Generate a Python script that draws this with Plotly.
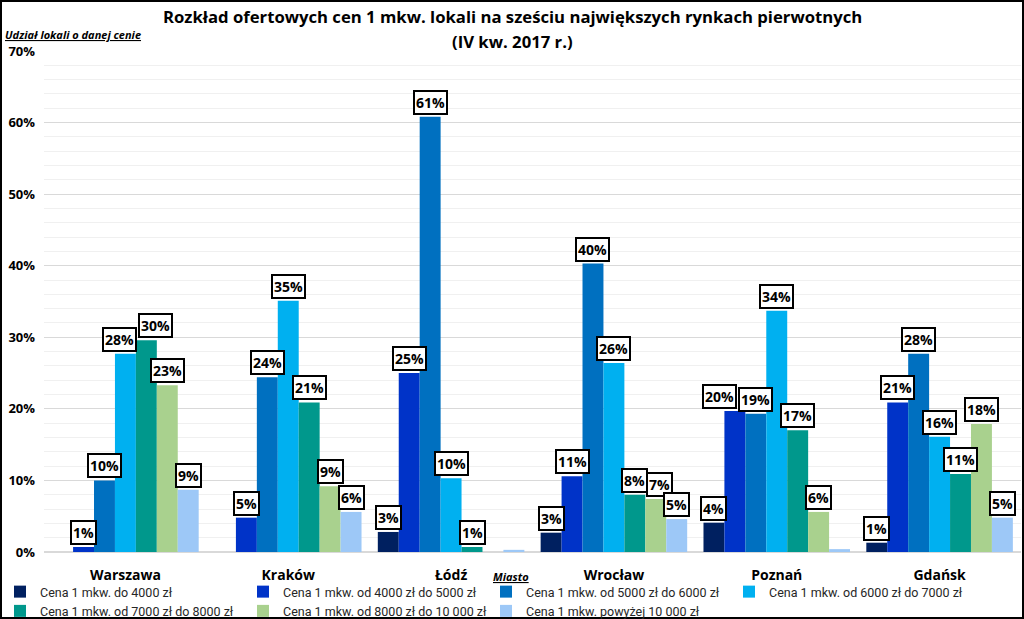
import plotly.graph_objects as go

cities = ["Warszawa", "Kraków", "Łódź", "Wrocław", "Poznań", "Gdańsk"]
series_names = [
    "Cena 1 mkw. do 4000 zł",
    "Cena 1 mkw. od 4000 zł do 5000 zł",
    "Cena 1 mkw. od 5000 zł do 6000 zł",
    "Cena 1 mkw. od 6000 zł do 7000 zł",
    "Cena 1 mkw. od 7000 zł do 8000 zł",
    "Cena 1 mkw. od 8000 zł do 10 000 zł",
    "Cena 1 mkw. powyżej 10 000 zł",
]
colors = ["#002060", "#0033c8", "#0070c0", "#00b0f0", "#00988c", "#a9d18e", "#9dc8f7"]

s_do4000 = [0.0, 0.0, 2.8, 2.7, 4.1, 1.3]
s_4000_5000 = [0.7, 4.8, 25.0, 10.6, 19.7, 20.9]
s_5000_6000 = [10.0, 24.4, 60.8, 40.3, 19.3, 27.7]
s_6000_7000 = [27.7, 35.1, 10.3, 26.4, 33.7, 16.1]
s_7000_8000 = [29.6, 20.9, 0.7, 8.0, 17.0, 10.9]
s_8000_10000 = [23.3, 9.2, 0.0, 7.4, 5.6, 17.9]
s_pow10000 = [8.7, 5.6, 0.3, 4.6, 0.4, 4.8]
series_values = [s_do4000, s_4000_5000, s_5000_6000, s_6000_7000,
                 s_7000_8000, s_8000_10000, s_pow10000]

y_ticks = [0, 10, 20, 30, 40, 50, 60, 70]
y_ticktext = [f"{v}%" for v in y_ticks]

# label nudges (pixels) used by the original to avoid overlapping boxes: (city index, series index) -> xshift
label_nudge = {(0, 3): -6, (0, 4): 9, (3, 5): 4, (4, 1): -15}

W, H = 1024, 619
ml, mr, mt, mb = 44, 3, 51, 67
pw, ph = W - ml - mr, H - mt - mb
BARGAP = 0.1
n = len(series_names)


def px_x(px):
    return (px - ml) / pw


def px_y(py):
    return (H - mb - py) / ph


fig = go.Figure()
for name, vals, col in zip(series_names, series_values, colors):
    fig.add_trace(go.Bar(x=cities, y=vals, name=name, marker=dict(color=col, line=dict(width=0))))

bw = (1 - BARGAP) / n
annotations = []
for j, vals in enumerate(series_values):
    off = -(1 - BARGAP) / 2 + (j + 0.5) * bw
    for i, v in enumerate(vals):
        if v >= 0.5:
            annotations.append(dict(
                x=i + off, y=v, xref="x", yref="y", text=f"{round(v)}%",
                showarrow=False, yanchor="bottom", yshift=2, xshift=label_nudge.get((i, j), 0),
                font=dict(family="Open Sans", size=14, color="black", weight="bold"),
                bgcolor="white", bordercolor="black", borderwidth=2, borderpad=1,
            ))

title_font = dict(family="Open Sans", size=16.7, color="black", weight="bold")
annotations += [
    dict(text="Rozkład ofertowych cen 1 mkw. lokali na sześciu największych rynkach pierwotnych",
         xref="paper", yref="paper", x=px_x(512), y=px_y(17), showarrow=False,
         font=title_font, xanchor="center", yanchor="middle"),
    dict(text="(IV kw. 2017 r.)",
         xref="paper", yref="paper", x=px_x(512), y=px_y(42), showarrow=False,
         font=title_font, xanchor="center", yanchor="middle"),
    dict(text="<i><u>Udział lokali o danej cenie</u></i>", xref="paper", yref="paper",
         x=px_x(3), y=px_y(34), xanchor="left", yanchor="middle",
         showarrow=False, font=dict(family="Open Sans", size=11, color="black", weight="bold")),
    dict(text="<i><u>Miasto</u></i>", xref="paper", yref="paper",
         x=px_x(511), y=px_y(576), xanchor="center", yanchor="middle",
         showarrow=False, font=dict(family="Open Sans", size=11, color="black", weight="bold")),
]

fig.update_layout(
    width=W, height=H,
    margin=dict(l=ml, r=mr, t=mt, b=mb, autoexpand=False),
    paper_bgcolor="white", plot_bgcolor="white",
    barmode="group", bargap=BARGAP, bargroupgap=0,
    annotations=annotations,
    showlegend=True,
    legend=dict(orientation="h", xref="container", yref="container", x=0.0, y=1 - 577 / H,
                xanchor="left", yanchor="top", entrywidth=198, entrywidthmode="pixels",
                itemwidth=30,
                font=dict(family="Liberation Sans Narrow, Roboto", size=12.5, color="#262626"),
                tracegroupgap=0, itemclick=False, bgcolor="rgba(0,0,0,0)"),
    shapes=[dict(type="rect", xref="paper", yref="paper",
                 x0=px_x(1), x1=px_x(W - 1),
                 y0=px_y(H - 1), y1=px_y(1),
                 line=dict(color="black", width=2), fillcolor="rgba(0,0,0,0)", layer="above")],
    xaxis=dict(tickfont=dict(family="Open Sans", size=14, color="black", weight="bold"),
               showline=False, ticks="", showgrid=False, automargin=False, ticklabelstandoff=13),
    yaxis=dict(range=[0, 70], tickvals=y_ticks, ticktext=y_ticktext,
               tickfont=dict(family="Open Sans", size=13, color="black", weight="bold"),
               showgrid=True, gridcolor="#d9d9d9", gridwidth=1, zeroline=True, zerolinecolor="#d9d9d9",
               minor=dict(dtick=2, showgrid=True, gridcolor="#f0f0f0", gridwidth=1),
               ticklabelstandoff=8, automargin=False),
)

fig.write_html("out.html", config={"displayModeBar": False},
               post_script="document.body.style.margin='0';document.body.style.padding='0';")
